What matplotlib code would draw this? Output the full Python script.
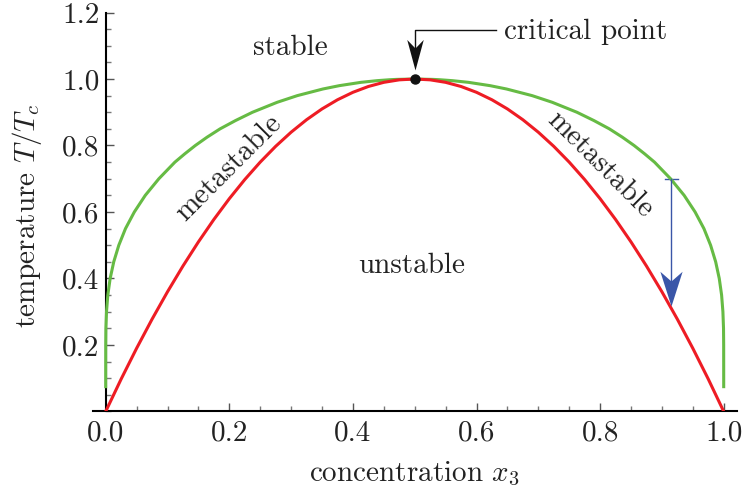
import matplotlib
matplotlib.use("Agg")
import matplotlib.pyplot as plt
from matplotlib.ticker import MultipleLocator
from matplotlib.path import Path

plt.rcParams['font.family'] = 'serif'
plt.rcParams['font.serif'] = ['cmr10']
plt.rcParams['mathtext.fontset'] = 'cm'
plt.rcParams['axes.formatter.use_mathtext'] = True
plt.rcParams['font.size'] = 21

# binodal (green)
binodal_x = [0.0, 0.0, 0.00005, 0.0003, 0.0013, 0.0034, 0.0072, 0.013, 0.0212, 0.032,
             0.0463, 0.064, 0.086, 0.112, 0.128, 0.145, 0.164, 0.185, 0.21, 0.2375,
             0.2775, 0.31, 0.3515, 0.378, 0.413, 0.439, 0.46, 0.47, 0.5,
             0.53, 0.54, 0.561, 0.587, 0.622, 0.6485, 0.69, 0.7225, 0.7625, 0.79,
             0.815, 0.836, 0.855, 0.872, 0.888, 0.914, 0.936, 0.9537, 0.968, 0.9788,
             0.987, 0.9928, 0.9966, 0.9987, 0.9997, 0.99995, 1.0, 1.0]
binodal_T = [0.07, 0.1, 0.2, 0.25, 0.3, 0.35, 0.4, 0.45, 0.5, 0.55,
             0.6, 0.65, 0.7, 0.75, 0.775, 0.8, 0.825, 0.85, 0.875, 0.9,
             0.93, 0.95, 0.97, 0.98, 0.99, 0.995, 0.9979, 0.9988, 1.0,
             0.9988, 0.9979, 0.995, 0.99, 0.98, 0.97, 0.95, 0.93, 0.9, 0.875,
             0.85, 0.825, 0.8, 0.775, 0.75, 0.7, 0.65, 0.6, 0.55, 0.5,
             0.45, 0.4, 0.35, 0.3, 0.25, 0.2, 0.1, 0.07]

# spinodal (red)
spinodal_x = [0.0, 0.025, 0.05, 0.075, 0.1, 0.125, 0.15, 0.175, 0.2, 0.225,
              0.25, 0.275, 0.3, 0.325, 0.35, 0.375, 0.4, 0.425, 0.45, 0.475,
              0.5, 0.525, 0.55, 0.575, 0.6, 0.625, 0.65, 0.675, 0.7, 0.725,
              0.75, 0.775, 0.8, 0.825, 0.85, 0.875, 0.9, 0.925, 0.95, 0.975, 1.0]
spinodal_T = [0.0, 0.0975, 0.19, 0.2775, 0.36, 0.4375, 0.51, 0.5775, 0.64, 0.6975,
              0.75, 0.7975, 0.84, 0.8775, 0.91, 0.9375, 0.96, 0.9775, 0.99, 0.9975,
              1.0, 0.9975, 0.99, 0.9775, 0.96, 0.9375, 0.91, 0.8775, 0.84, 0.7975,
              0.75, 0.6975, 0.64, 0.5775, 0.51, 0.4375, 0.36, 0.2775, 0.19, 0.0975, 0.0]

crit_x, crit_T = 0.5, 1.0
quench_x, quench_top, quench_bottom = 0.915, 0.698, 0.318

xticks = [0.0, 0.2, 0.4, 0.6, 0.8, 1.0]
xticklabels = ['0.0', '0.2', '0.4', '0.6', '0.8', '1.0']
yticks = [0.2, 0.4, 0.6, 0.8, 1.0, 1.2]
yticklabels = ['0.2', '0.4', '0.6', '0.8', '1.0', '1.2']

green = '#66bb44'
red = '#ee1c24'
blue = '#3a56a8'
txt = '#222222'


def stealth(half_w):
    # downward arrowhead, tip at the origin, concave back
    return Path([(0, 0), (-half_w, 1.0), (0, 0.72), (half_w, 1.0), (0, 0)],
                [Path.MOVETO, Path.LINETO, Path.LINETO, Path.LINETO, Path.CLOSEPOLY])


fig = plt.figure(figsize=(7.43, 4.91), dpi=100)
ax = fig.add_axes([0.1248, 0.162, 0.8667, 0.8125])

ax.plot(binodal_x, binodal_T, color=green, lw=2.2, zorder=3, solid_capstyle='butt')
ax.plot(spinodal_x, spinodal_T, color=red, lw=2.2, zorder=4)
ax.plot([crit_x], [crit_T], 'o', color='#111111', ms=6.5, zorder=6)

# critical point arrow
ax.plot([0.632, crit_x, crit_x], [1.147, 1.147, 1.07], color='#111111', lw=1.0)
ax.plot([crit_x], [1.027], marker=stealth(0.27), ms=44, color='#111111', mew=0, zorder=6)
ax.text(0.644, 1.119, 'critical point', ha='left', va='baseline', color=txt)

# quench arrow
ax.plot([quench_x, quench_x], [quench_top, quench_bottom + 0.06], color=blue, lw=1.0, zorder=5)
ax.plot([quench_x - 0.0105, quench_x + 0.0105], [quench_top, quench_top], color=blue, lw=1.0)
ax.plot([quench_x], [quench_bottom], marker=stealth(0.32), ms=50, color=blue, mew=0, zorder=6)

ax.text(0.299, 1.072, 'stable', ha='center', va='baseline', color=txt)
ax.text(0.495, 0.4165, 'unstable', ha='center', va='baseline', color=txt)
ax.text(0.2, 0.732, 'metastable', ha='center', va='center', rotation=45,
        rotation_mode='anchor', color=txt)
ax.text(0.80, 0.741, 'metastable', ha='center', va='center', rotation=-45,
        rotation_mode='anchor', color=txt)

ax.set_xlim(-0.021, 1.021)
ax.set_ylim(0, 1.2)
ax.spines['top'].set_visible(False)
ax.spines['right'].set_visible(False)
ax.spines['left'].set_position(('data', 0))
ax.spines['left'].set_linewidth(1.5)
ax.spines['bottom'].set_linewidth(1.5)

ax.set_xticks(xticks, labels=xticklabels)
ax.set_yticks(yticks, labels=yticklabels)
ax.xaxis.set_minor_locator(MultipleLocator(0.05))
ax.yaxis.set_minor_locator(MultipleLocator(0.05))
ax.tick_params(which='major', direction='in', length=6, width=1.0, color='#555555', labelcolor=txt)
ax.tick_params(which='minor', direction='in', length=3.6, width=1.0, color='#777777')
ax.tick_params(axis='x', which='major', pad=6)
ax.tick_params(axis='y', which='major', pad=4.5)

ax.set_xlabel('concentration $x_3$', color=txt)
ax.xaxis.label.set_va('baseline')
ax.xaxis.set_label_coords(0.5, -0.174)
ax.set_ylabel('temperature $T/T_c$', color=txt)
ax.yaxis.label.set_va('baseline')
ax.yaxis.set_label_coords(-0.0896, 0.49)

fig.savefig('out.png', dpi=100)
